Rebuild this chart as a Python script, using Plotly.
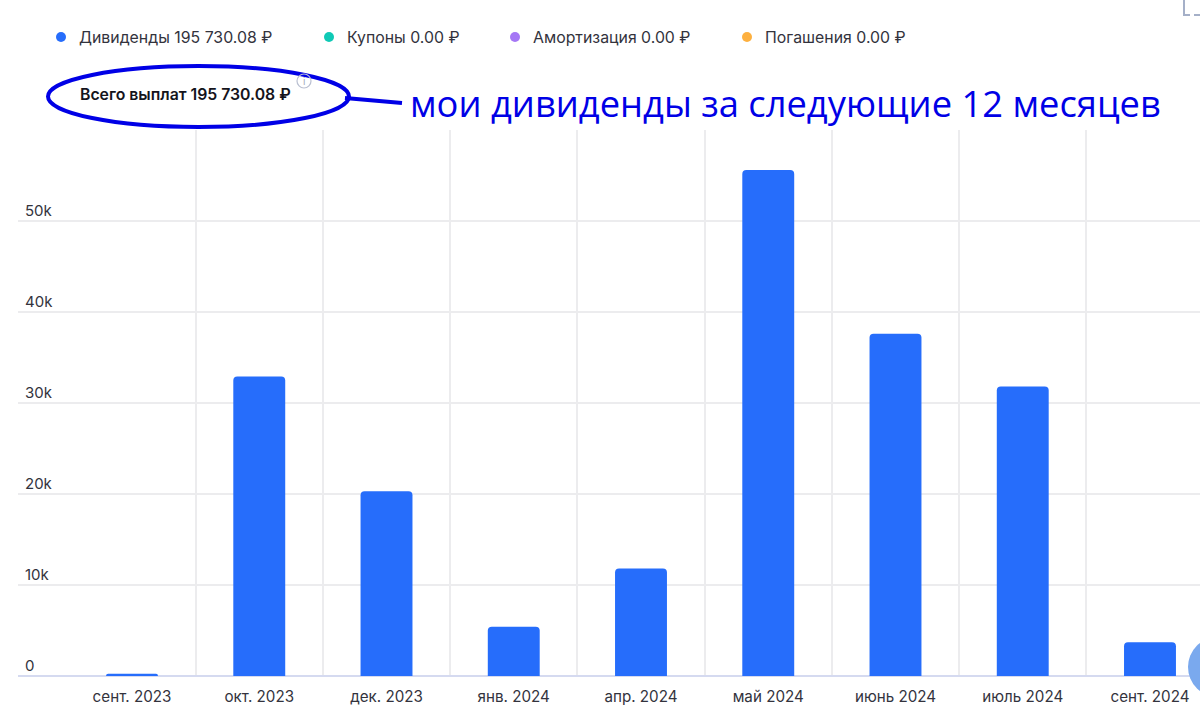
import plotly.graph_objects as go

months = ["сент. 2023", "окт. 2023", "дек. 2023", "янв. 2024", "апр. 2024",
          "май 2024", "июнь 2024", "июль 2024", "сент. 2024"]
dividends = [250, 32900, 20300, 5400, 11800, 55600, 37600, 31800, 3700]
y_ticks = [0, 10000, 20000, 30000, 40000, 50000]
y_labels = ["0", "10k", "20k", "30k", "40k", "50k"]

legend_names = ["Дивиденды 195 730.08 ₽", "Купоны 0.00 ₽", "Амортизация 0.00 ₽", "Погашения 0.00 ₽"]
legend_colors = ["#266dfb", "#0fc9b5", "#a577f5", "#fdb03f"]
legend_dots = [61, 329, 515, 747]

total_text = "Всего выплат 195 730.08 ₽"
note_text = "мои дивиденды за следующие 12 месяцев"

W, H = 1200, 710
L, R, T, B = 18, 0, 130, 34
INK = "#33333d"
PEN = "#0000e6"

# picture pixels to paper coords
def px(x):
    return (x - L) / (W - L - R)

def py(y):
    return (H - B - y) / (H - T - B)

positions = list(range(len(months)))
between = [p + 0.5 for p in positions[:-1]]

fig = go.Figure()
fig.add_trace(go.Bar(x=positions, y=dividends, width=0.408,
                     marker=dict(color="#266dfb", cornerradius=4, line=dict(width=0)),
                     showlegend=False))

annotations = []
shapes = []
for name, color, dot in zip(legend_names, legend_colors, legend_dots):
    shapes.append(dict(type="circle", xref="paper", yref="paper", x0=px(dot - 5), x1=px(dot + 5),
                       y0=py(42), y1=py(32), fillcolor=color, line=dict(width=0)))
    annotations.append(dict(text=name, xref="paper", yref="paper", x=px(dot + 16), y=py(38),
                            xanchor="left", yanchor="middle", showarrow=False,
                            font=dict(family="Inter", size=15.85, color=INK)))

annotations.append(dict(text=total_text, xref="paper", yref="paper", x=px(78), y=py(94),
                        xanchor="left", yanchor="middle", showarrow=False,
                        font=dict(family="Inter", size=15.8, weight=600, color="#14141c")))
annotations.append(dict(text="i", xref="paper", yref="paper", x=px(304), y=py(81),
                        xanchor="center", yanchor="middle", showarrow=False,
                        font=dict(family="Inter", size=10, color="#a5abbd")))
annotations.append(dict(text=note_text, xref="paper", yref="paper", x=px(408), y=py(103),
                        xanchor="left", yanchor="middle", showarrow=False,
                        font=dict(family="Open Sans", size=36.3, color=PEN)))

# hand drawn ellipse and its line
shapes.append(dict(type="circle", xref="paper", yref="paper", x0=px(48), x1=px(349), y0=py(127), y1=py(66),
                   line=dict(color=PEN, width=4)))
shapes.append(dict(type="line", xref="paper", yref="paper", x0=px(345), x1=px(402), y0=py(98), y1=py(103),
                   line=dict(color=PEN, width=4)))
# info icon, corner icon and the floating button cut off by the page
shapes.append(dict(type="circle", xref="paper", yref="paper", x0=px(297), x1=px(311), y0=py(88), y1=py(74),
                   line=dict(color="#b9bfd0", width=1.2)))
shapes.append(dict(type="path", xref="paper", yref="paper",
                   path="M %f %f L %f %f L %f %f" % (px(1184), py(0), px(1184), py(15), px(1190), py(15)),
                   line=dict(color="#a5b0c8", width=2)))
shapes.append(dict(type="line", xref="paper", yref="paper", x0=px(1194), x1=px(1200), y0=py(15), y1=py(15),
                   line=dict(color="#a5b0c8", width=2)))
shapes.append(dict(type="circle", xref="paper", yref="paper", x0=px(1188), x1=px(1248), y0=py(697), y1=py(637),
                   fillcolor="#7aa9ee", line=dict(width=0)))

fig.update_layout(
    width=W, height=H,
    margin=dict(l=L, r=R, t=T, b=B, pad=0),
    plot_bgcolor="#ffffff",
    paper_bgcolor="#ffffff",
    showlegend=False,
    font=dict(family="Inter", size=15, color=INK),
    annotations=annotations,
    shapes=shapes,
    xaxis=dict(range=[-0.896, 8.393], tickmode="array", tickvals=positions, ticktext=months,
               showgrid=False, zeroline=False, showline=False,
               ticks="outside", ticklen=7, tickcolor="rgba(0,0,0,0)",
               tickfont=dict(family="Inter", size=15.2, color=INK),
               minor=dict(tickmode="array", tickvals=between, showgrid=True,
                          gridcolor="#ececee", gridwidth=1.5, ticks="")),
    yaxis=dict(range=[0, 60000], tickmode="array", tickvals=y_ticks, ticktext=y_labels,
               showgrid=True, gridcolor="#ececee", gridwidth=1.5,
               zeroline=True, zerolinecolor="#d5daf0", zerolinewidth=1.5,
               ticklabelposition="inside top", ticks="", ticklabelstandoff=4,
               tickfont=dict(family="Inter", size=15, color=INK)),
)

# page body has a default 8px margin, drop it so the figure fills the window
fig.write_html("out.html", config={"displayModeBar": False},
               post_script="document.body.style.margin = '0';")
